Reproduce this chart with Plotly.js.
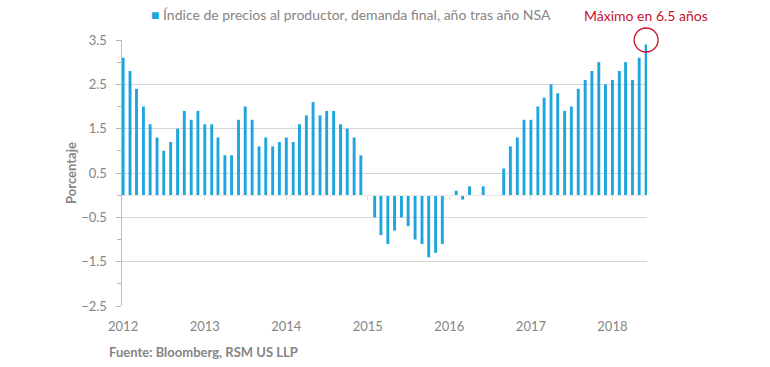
<!DOCTYPE html>
<html>
<head>
<meta charset="utf-8">
<script src="https://cdn.plot.ly/plotly-3.0.1.min.js"></script>
<style>html,body{margin:0;padding:0;background:#fff;}#chart{width:770px;height:367px;}</style>
</head>
<body>
<div id="chart"></div>
<script>
// Monthly year-over-year values (%), Jan..Dec
const years = [2012, 2013, 2014, 2015, 2016, 2017, 2018];
const v2012 = [3.1, 2.8, 2.4, 2.0, 1.6, 1.3, 1.0, 1.2, 1.5, 1.9, 1.7, 1.9];
const v2013 = [1.6, 1.6, 1.3, 0.9, 0.9, 1.7, 2.0, 1.7, 1.1, 1.3, 1.1, 1.2];
const v2014 = [1.3, 1.2, 1.6, 1.8, 2.1, 1.8, 1.9, 1.9, 1.6, 1.5, 1.3, 0.9];
const v2015 = [0.0, -0.5, -0.9, -1.1, -0.8, -0.5, -0.7, -1.0, -1.1, -1.4, -1.3, -1.1];
const v2016 = [0.0, 0.1, -0.1, 0.2, 0.0, 0.2, 0.0, 0.0, 0.6, 1.1, 1.3, 1.7];
const v2017 = [1.7, 2.0, 2.2, 2.5, 2.3, 1.9, 2.0, 2.4, 2.6, 2.8, 3.0, 2.5];
const v2018 = [2.6, 2.8, 3.0, 2.6, 3.1, 3.4];
const yearValues = [v2012, v2013, v2014, v2015, v2016, v2017, v2018];
const seriesName = "Índice de precios al productor, demanda final, año tras año NSA";
const yTicks = [3.5, 2.5, 1.5, 0.5, -0.5, -1.5, -2.5];
const yTickText = ["3.5", "2.5", "1.5", "0.5", "\u22120.5", "\u22121.5", "\u22122.5"];

const dates = [], values = [];
years.forEach((y, i) => {
  yearValues[i].forEach((v, m) => {
    dates.push(y + "-" + String(m + 1).padStart(2, "0") + "-01");
    values.push(v);
  });
});
const yearTickVals = years.map(y => y + "-01-01");
const yearTickText = years.map(String);

const blue = "#1ea5de";
const gray = "#858585";
const red = "#c8102e";
const font = "Lato, 'Open Sans', sans-serif";
const xRange = ["2011-12-27", "2018-06-05"];
const yRange = [-2.5, 3.5];

// paper position of the last (maximum) bar, derived from the axis range
const t0 = Date.parse(xRange[0]), t1 = Date.parse(xRange[1]);
const lastX = (Date.parse(dates[dates.length - 1]) - t0) / (t1 - t0);

const trace = {
  type: "bar",
  x: dates,
  y: values,
  name: seriesName,
  marker: {color: blue},
  width: 13 * 86400000,
  showlegend: false,
  hoverinfo: "x+y"
};

const layout = {
  width: 770,
  height: 367,
  margin: {l: 122, r: 123, t: 40, b: 61},
  paper_bgcolor: "#fff",
  plot_bgcolor: "#fff",
  font: {family: font, color: gray, size: 14},
  showlegend: false,
  xaxis: {
    type: "date",
    range: xRange,
    tickmode: "array",
    tickvals: yearTickVals,
    ticktext: yearTickText,
    ticks: "",
    ticklabelstandoff: 11,
    showgrid: false,
    zeroline: false,
    showline: false,
    tickfont: {family: font, size: 13, color: gray}
  },
  xaxis2: {
    type: "date",
    overlaying: "x",
    matches: "x",
    anchor: "free",
    position: (0 - yRange[0]) / (yRange[1] - yRange[0]),
    side: "bottom",
    tickmode: "array",
    tickvals: yearTickVals.slice(1),
    showticklabels: false,
    ticks: "outside",
    ticklen: 4,
    tickcolor: "#e2e2e2",
    showline: true,
    linecolor: "#e8e8e8",
    linewidth: 1,
    showgrid: false,
    zeroline: false
  },
  yaxis: {
    range: yRange,
    tickmode: "array",
    tickvals: yTicks,
    ticktext: yTickText,
    ticks: "outside",
    ticklen: 5,
    tickcolor: "#b5b5b5",
    ticklabelstandoff: 6,
    minor: {dtick: 0.5, tick0: 0, ticks: "outside", ticklen: 4, tickcolor: "#b5b5b5", showgrid: false},
    showgrid: true,
    gridcolor: "#d6d6d6",
    gridwidth: 1,
    zeroline: false,
    showline: true,
    linecolor: "#bdbdbd",
    linewidth: 1.5,
    tickfont: {family: font, size: 13, color: gray},
    title: {text: "<b>Porcentaje</b>", standoff: 1, font: {family: font, size: 13, color: gray}}
  },
  shapes: [{
    type: "circle",
    xref: "paper", yref: "paper",
    xsizemode: "pixel", ysizemode: "pixel",
    xanchor: lastX,
    yanchor: 1,
    x0: -12, x1: 12, y0: -12, y1: 12,
    line: {color: red, width: 1.3},
    fillcolor: "rgba(0,0,0,0)"
  }],
  annotations: [
    {
      text: "<span style='color:" + blue + ";font-size:14px'>■</span> " + seriesName,
      xref: "paper", yref: "paper",
      x: 27 / 525, xanchor: "left",
      y: 1, yshift: 26, yanchor: "middle",
      showarrow: false,
      font: {family: font, size: 14, color: gray}
    },
    {
      text: "Máximo en 6.5 años",
      xref: "paper", yref: "paper",
      x: lastX, xanchor: "center",
      y: 1, yshift: 25, yanchor: "middle",
      showarrow: false,
      font: {family: font, size: 14, color: red}
    },
    {
      text: "<b>Fuente: Bloomberg, RSM US LLP</b>",
      xref: "paper", yref: "paper",
      x: -15 / 525, xanchor: "left",
      y: 0, yshift: -46, yanchor: "middle",
      showarrow: false,
      font: {family: font, size: 13, color: gray}
    }
  ]
};

const zeroAxisTrace = {type: "bar", x: [dates[0]], y: [null], xaxis: "x2", showlegend: false, hoverinfo: "skip"};

Plotly.newPlot("chart", [trace, zeroAxisTrace], layout, {displayModeBar: false, staticPlot: true});
</script>
</body>
</html>
